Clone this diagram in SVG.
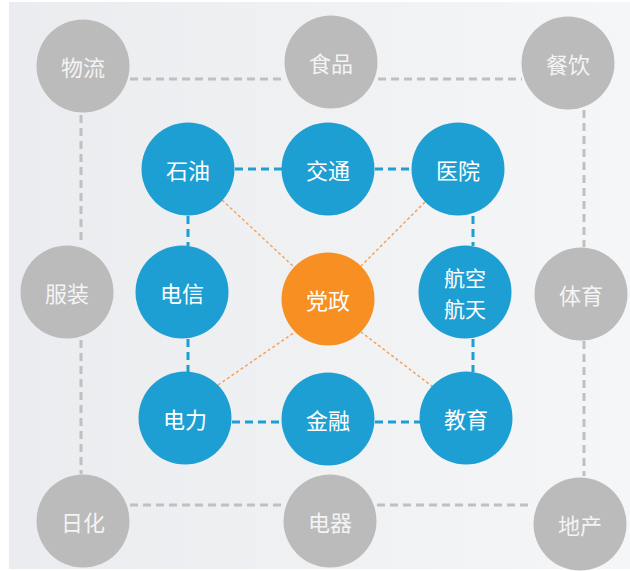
<svg xmlns="http://www.w3.org/2000/svg" width="630" height="571" viewBox="0 0 630 571">
<defs>
<linearGradient id="bg" x1="0" y1="0" x2="1" y2="0">
<stop offset="0" stop-color="#eaecef"/>
<stop offset="1" stop-color="#f5f6f7"/>
</linearGradient>
<style>
.g{fill:#bbbbbb}
.b{fill:#1e9fd3}
.o{fill:#f78f22}
text{font-family:"Noto Sans CJK SC","Noto Sans",sans-serif;font-size:22px;text-anchor:middle;dominant-baseline:central}
.tg{fill:#f4f4f4}
.tw{fill:#ffffff}
.sm{font-size:21px}
.dg{fill:none;stroke:#c0c0c0;stroke-width:3;stroke-dasharray:8 5}
.db{fill:none;stroke:#1e9fd3;stroke-width:3;stroke-dasharray:8 5}
.do{fill:none;stroke:#f5a25a;stroke-width:1.5;stroke-dasharray:3 2.5}
</style>
</defs>
<rect x="0" y="0" width="630" height="571" fill="#ffffff"/>
<rect x="9" y="2" width="621" height="567" fill="url(#bg)"/>
<g id="connectors">
<path class="dg" d="M130 79H284M378 79H522M81 115V245M81 340V474M584 110V247M584 341V476M130 505H283M377 505H533"/>
<path class="db" d="M235 169H282M375 169H411M188 216V246M473 216V246M188 339V372M473 339V372M232 422H282M375 422H420"/>
<path class="do" d="M222 200L294 267M425 202L361 266M218 385L295 332M433 387L361 332"/>
</g>
<g id="wuliu"><circle class="g" cx="83" cy="66" r="46.5"/><text class="tg" x="83" y="66">物流</text></g>
<g id="shipin"><circle class="g" cx="331" cy="62" r="46.5"/><text class="tg" x="331" y="62">食品</text></g>
<g id="canyin"><circle class="g" cx="568" cy="63" r="46.5"/><text class="tg" x="568" y="63">餐饮</text></g>
<g id="fuzhuang"><circle class="g" cx="67" cy="292" r="46.5"/><text class="tg" x="67" y="292">服装</text></g>
<g id="tiyu"><circle class="g" cx="581" cy="294" r="46.5"/><text class="tg" x="581" y="294">体育</text></g>
<g id="rihua"><circle class="g" cx="83" cy="521" r="46.5"/><text class="tg" x="83" y="521">日化</text></g>
<g id="dianqi"><circle class="g" cx="330" cy="521" r="46.5"/><text class="tg" x="330" y="521">电器</text></g>
<g id="dichan"><circle class="g" cx="580" cy="524" r="46.5"/><text class="tg" x="580" y="524">地产</text></g>
<g id="shiyou"><circle class="b" cx="188" cy="169" r="46.5"/><text class="tw" x="188" y="169">石油</text></g>
<g id="jiaotong"><circle class="b" cx="328" cy="169" r="46.5"/><text class="tw" x="328" y="169">交通</text></g>
<g id="yiyuan"><circle class="b" cx="458" cy="169" r="46.5"/><text class="tw" x="458" y="169">医院</text></g>
<g id="dianxin"><circle class="b" cx="182" cy="292" r="46.5"/><text class="tw" x="182" y="292">电信</text></g>
<g id="hangtian"><circle class="b" cx="465" cy="292" r="46.5"/><text class="tw sm" x="465" y="277">航空</text><text class="tw sm" x="465" y="308">航天</text></g>
<g id="dangzheng"><circle class="o" cx="328" cy="299" r="46.5"/><text class="tw" x="328" y="299">党政</text></g>
<g id="dianli"><circle class="b" cx="185" cy="418" r="46.5"/><text class="tw" x="185" y="418">电力</text></g>
<g id="jinrong"><circle class="b" cx="328" cy="419" r="46.5"/><text class="tw" x="328" y="419">金融</text></g>
<g id="jiaoyu"><circle class="b" cx="466" cy="418" r="46.5"/><text class="tw" x="466" y="418">教育</text></g>
</svg>
